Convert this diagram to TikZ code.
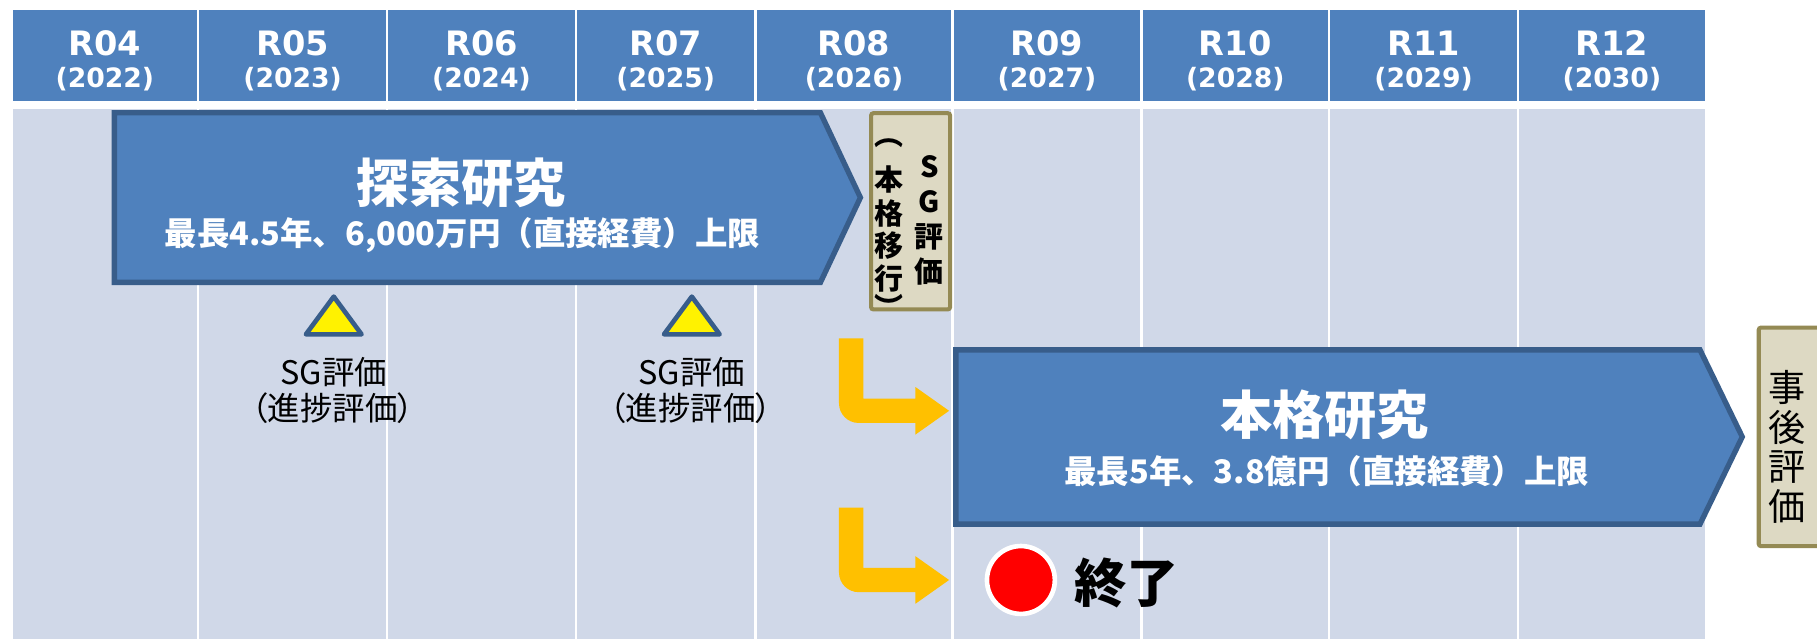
\documentclass[tikz,border=0pt]{standalone}
\usepackage{fontspec}
\newfontfamily\dv{DejaVu Sans}
\newfontfamily\jp{Noto Sans CJK JP}
\newfontfamily\jpp{Noto Sans CJK JP}[RawFeature=+palt]
\definecolor{hdr}{HTML}{4F81BD}
\definecolor{bodyc}{HTML}{D0D8E8}
\definecolor{pentb}{HTML}{385D8A}
\definecolor{boxf}{HTML}{DDD9C3}
\definecolor{boxb}{HTML}{948A54}
\definecolor{orng}{HTML}{FFC000}
\tikzset{
  hdrtxt/.style={text=white, inner sep=0pt, font=\dv\bfseries\fontsize{29}{29}\selectfont},
  yrtxt/.style={text=white, inner sep=0pt, font=\dv\bfseries\fontsize{23}{23}\selectfont},
  pent/.style={fill=hdr, draw=pentb, line width=4.6pt, line join=miter},
  ttl/.style={text=white, inner sep=0pt, font=\jp\bfseries\fontsize{45}{45}\selectfont},
  sub/.style={text=white, inner sep=0pt, font=\jp\bfseries\fontsize{28}{28}\selectfont},
  evbox/.style={fill=boxf, draw=boxb, line width=3.5pt, rounded corners=2pt},
  vch/.style={inner sep=0pt, text=black, font=\jp\bfseries\fontsize{25}{25}\selectfont},
  vch2/.style={inner sep=0pt, text=black, font=\jp\fontsize{32}{32}\selectfont},
  tri/.style={fill=yellow, draw=pentb, line width=4pt, line join=round},
  lbl/.style={inner sep=0pt, text=black, font=\jpp\fontsize{28}{28}\selectfont},
  turn/.style={fill=orng},
  endtxt/.style={inner sep=0pt, text=black, font=\jp\bfseries\fontsize{45}{45}\selectfont},
}
\begin{document}
\begin{tikzpicture}[x=1pt,y=-1pt]
\useasboundingbox (0,0) rectangle (1568,551);
\fill[white] (0,0) rectangle (1568,551);
% columns
\foreach \a/\b/\r/\yr [count=\i] in {10/171/R04/2022,171/334/R05/2023,334/497/R06/2024,497/652/R07/2025,652/822/R08/2026,822/985/R09/2027,985/1147/R10/2028,1147/1310/R11/2029,1310/1472/R12/2030}{
  \fill[hdr] (\a+1,9) rectangle (\b-1,87);
  \fill[bodyc] (\a+1,94) rectangle (\b-1,551);
  \node[hdrtxt] (h\i) at ({(\a+\b)/2},37) {\r};
  \node[yrtxt] (y\i) at ({(\a+\b)/2},68) {(\yr)};
}
% exploratory research
\draw[pent] (98.7,97.3) -- (708,97.3) -- (742.5,170.5) -- (708,243.7) -- (98.7,243.7) -- cycle;
\node[ttl] (t1) at (398,158) {探索研究};
\node[sub] (s1) at (399,203) {最長4.5年、6,000万円（直接経費）上限};
% SG box
\draw[evbox] (751.7,97.7) rectangle (819.9,267);
\node[vch] (r1) at (802,144) {S};
\node[vch] (r2) at (802,174) {G};
\node[vch] (r3) at (802,204) {評};
\node[vch] (r4) at (802,234) {価};
\node[vch] (l1) at (767,124) {︵};
\node[vch] (l2) at (767,155) {本};
\node[vch] (l3) at (767,184) {格};
\node[vch] (l4) at (767,212) {移};
\node[vch] (l5) at (767,240) {行};
\node[vch] (l6) at (767,264) {︶};
% triangles and labels
\foreach \cx/\n in {288/1,597/2}{
  \draw[tri] (\cx,256) -- (\cx+24,288.5) -- (\cx-24,288.5) -- cycle;
  \node[lbl] (sg\n) at (\cx,321) {SG評価};
  \node[lbl] (sp\n) at (\cx-1,352) {（進捗評価）};
}
% turn arrows
\foreach \t/\h in {292/344,438/490}{
  \fill[turn] (724,\t) -- (745,\t) -- (745,\h) -- (790,\h) -- (790,\h-10) -- (819,\h+10.5)
    -- (790,\h+31) -- (790,\h+21) -- (741,\h+21)
    .. controls (731.6,\h+21) and (724,\h+13.4) .. (724,\h+4) -- cycle;
}
% full research
\draw[pent] (824.9,301.9) -- (1467,301.9) -- (1503.5,377) -- (1467,452.3) -- (824.9,452.3) -- cycle;
\node[ttl] (t2) at (1143,358) {本格研究};
\node[sub] (s2) at (1145,407) {最長5年、3.8億円（直接経費）上限};
% post evaluation
\draw[evbox] (1517.7,282.7) rectangle (1590,471.3);
\node[vch2] (p1) at (1542,334) {事};
\node[vch2] (p2) at (1542,368.5) {後};
\node[vch2] (p3) at (1542,403) {評};
\node[vch2] (p4) at (1542,437) {価};
% end
\draw[white, line width=4pt, fill=red] (881,500.5) circle (29.3);
\node[endtxt] (e1) at (972,503) {終了};
\end{tikzpicture}
\end{document}
